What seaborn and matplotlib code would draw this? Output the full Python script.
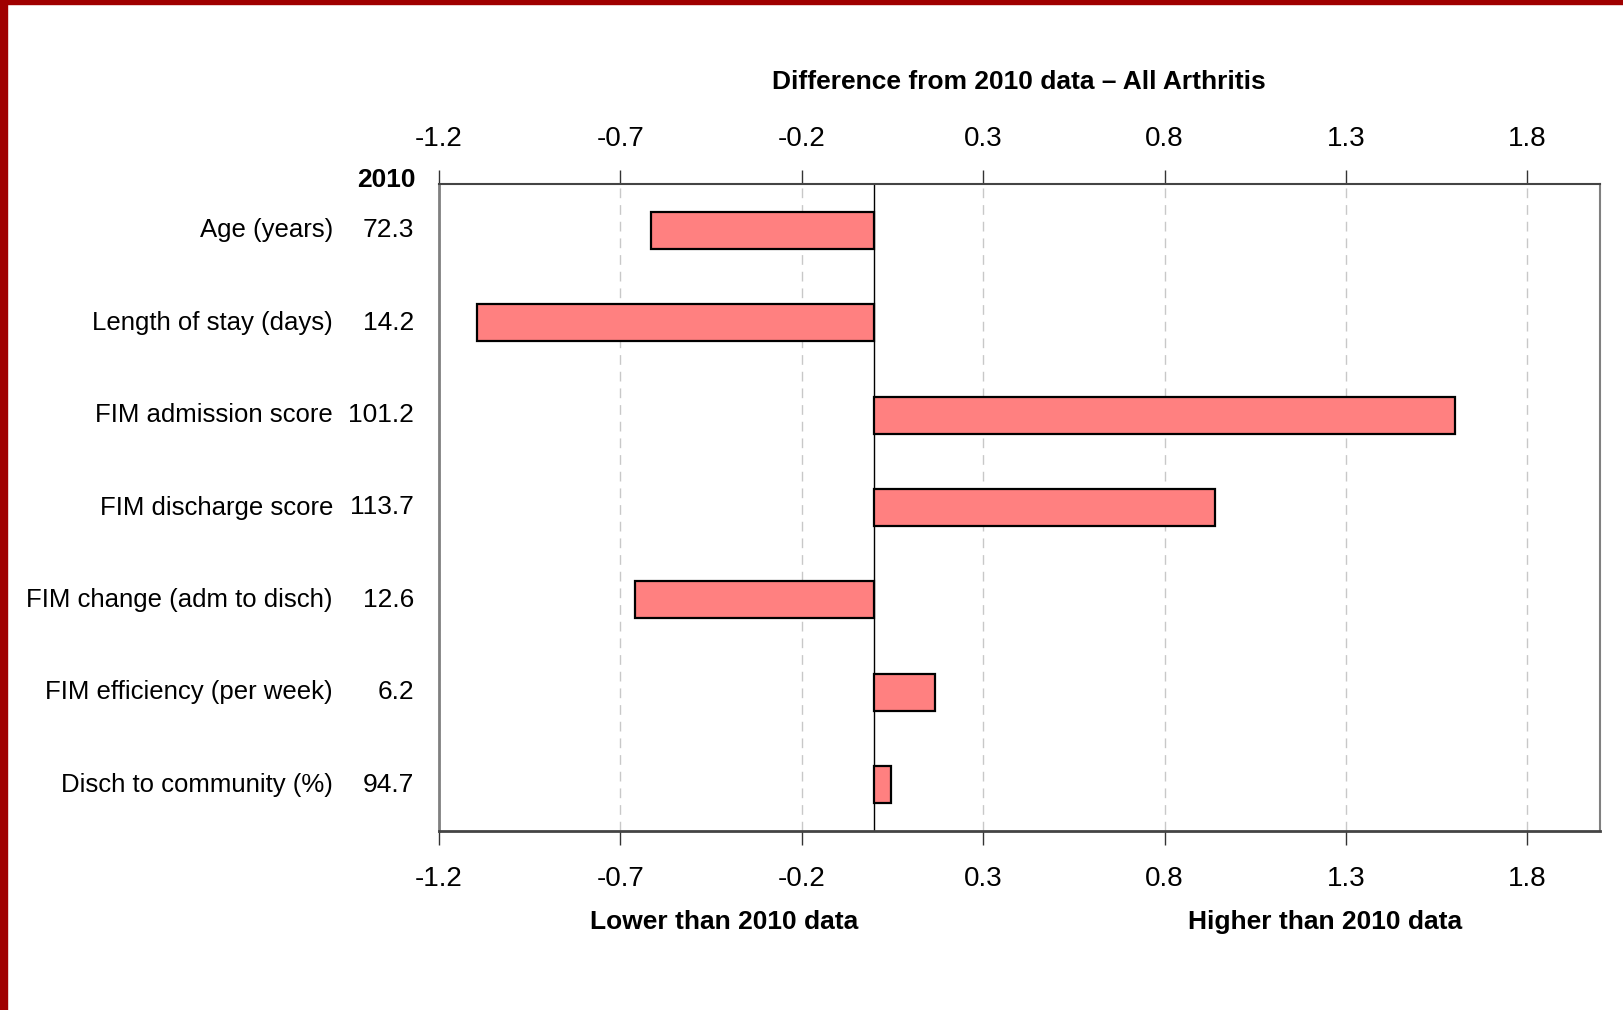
import matplotlib
matplotlib.use('Agg')
import matplotlib.pyplot as plt
import numpy as np
import pandas as pd
import seaborn as sns
from matplotlib.patches import Rectangle
from matplotlib.transforms import blended_transform_factory

CATEGORIES = [
    'Age (years)',
    'Length of stay (days)',
    'FIM admission score',
    'FIM discharge score',
    'FIM change (adm to disch)',
    'FIM efficiency (per week)',
    'Disch to community (%)',
]
VALUES_2010 = ['72.3', '14.2', '101.2', '113.7', '12.6', '6.2', '94.7']
DIFFERENCE = [-0.616, -1.094, 1.601, 0.940, -0.661, 0.168, 0.047]
X_TICKS = [-1.2, -0.7, -0.2, 0.3, 0.8, 1.3, 1.8]

TITLE = 'Difference from 2010 data \u2013 All Arthritis'
LOWER_LABEL = 'Lower than 2010 data'
HIGHER_LABEL = 'Higher than 2010 data'

BAR_COLOR = '#FF8080'
FRAME_RED = '#A00000'
FONT = ['Liberation Sans', 'DejaVu Sans']


def main():
    sns.set_style('white')
    plt.rcParams['font.family'] = FONT
    plt.rcParams['text.color'] = 'black'
    plt.rcParams['xtick.labelcolor'] = 'black'

    W, H = 1623, 1010
    fig = plt.figure(figsize=(W / 100, H / 100), dpi=100)
    ax = fig.add_axes([439 / W, 1 - 831 / H, (1600 - 439) / W, (831 - 184) / H])

    df = pd.DataFrame({'measure': CATEGORIES, 'diff': DIFFERENCE})
    sns.barplot(
        data=df, x='diff', y='measure', orient='h', color=BAR_COLOR,
        saturation=1, width=0.4, edgecolor='black', linewidth=1.6, ax=ax, zorder=3,
    )

    ax.set_xlim(-1.2, 2.0)
    ax.set_ylim(6.5, -0.5)
    ax.set_xticks(X_TICKS)
    ax.set_xticklabels([f'{t:.1f}' for t in X_TICKS])
    ax.set_yticks([])
    ax.set_xlabel('')
    ax.set_ylabel('')

    ax.xaxis.grid(True, linestyle=(0, (7, 5)), color='#c8c8c8', linewidth=1)
    ax.set_axisbelow(True)
    ax.axvline(0, color='black', linewidth=1, zorder=2)

    ax.tick_params(axis='x', bottom=True, top=False, direction='out', length=10,
                   width=1, color='#333333', labelcolor='black', labelsize=20, pad=15)
    top = ax.secondary_xaxis('top')
    top.set_xticks(X_TICKS)
    top.set_xticklabels([f'{t:.1f}' for t in X_TICKS])
    top.tick_params(axis='x', direction='out', length=10, width=1,
                    color='#333333', labelcolor='black', labelsize=20, pad=13)
    top.spines['top'].set_visible(False)

    ax.spines['left'].set_color('#808080')
    ax.spines['left'].set_linewidth(2)
    ax.spines['right'].set_color('#808080')
    ax.spines['right'].set_linewidth(1.5)
    ax.spines['top'].set_color('#444444')
    ax.spines['top'].set_linewidth(1.5)
    ax.spines['bottom'].set_color('#444444')
    ax.spines['bottom'].set_linewidth(2)

    trans = blended_transform_factory(fig.transFigure, ax.transData)
    for i, (name, val) in enumerate(zip(CATEGORIES, VALUES_2010)):
        ax.text(333 / W, i, name, transform=trans, ha='right', va='center',
                fontsize=18.5, color='black', clip_on=False)
        ax.text(414 / W, i, val, transform=trans, ha='right', va='center',
                fontsize=19, color='black', clip_on=False)
    fig.text(416 / W, 1 - 180 / H, '2010', ha='right', va='center',
             fontsize=19, fontweight='bold', color='black')

    fig.text(1019 / W, 1 - 82 / H, TITLE, ha='center', va='center',
             fontsize=19, fontweight='bold', color='black')
    fig.text(724 / W, 1 - 922 / H, LOWER_LABEL, ha='center', va='center',
             fontsize=19, fontweight='bold', color='black')
    fig.text(1325 / W, 1 - 922 / H, HIGHER_LABEL, ha='center', va='center',
             fontsize=19, fontweight='bold', color='black')

    # dark red frame on the top and left edges
    fig.patches.append(Rectangle((0, 0), 7 / W, 1, transform=fig.transFigure,
                                 color=FRAME_RED, zorder=10))
    fig.patches.append(Rectangle((0, 1 - 3.5 / H), 1, 3.5 / H,
                                 transform=fig.transFigure, color=FRAME_RED, zorder=10))

    fig.savefig('out.png', dpi=100)
    plt.close(fig)


if __name__ == '__main__':
    main()
